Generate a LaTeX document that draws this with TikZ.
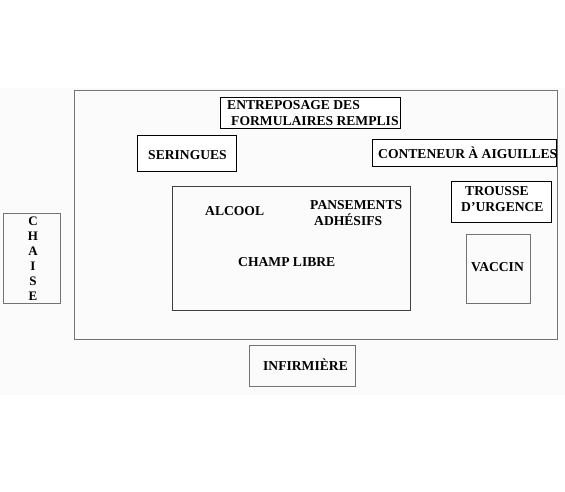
\documentclass[tikz,border=0pt]{standalone}
\usepackage{fontspec}
\setmainfont{Liberation Serif}
\begin{document}
\begin{tikzpicture}[x=1pt,y=-1pt,
  box/.style={draw=black,line width=0.8pt,inner sep=0pt,fill=white},
  gbox/.style={draw=black!55,line width=0.9pt,inner sep=0pt},
  lbl/.style={font=\fontsize{13.6}{15.5}\selectfont\bfseries,inner sep=0pt,anchor=west,align=left}]
\useasboundingbox (0,0) rectangle (565,492);
\fill[black!1.5] (0,88) rectangle (565,395);
% outer zone
\node[gbox,minimum width=483pt,minimum height=249pt] (zone) at (315.5,214.5) {};
% boxes
\node[box,minimum width=180pt,minimum height=31pt] (ent) at (310,112.5) {};
\node[box,minimum width=99pt,minimum height=36pt] (ser) at (186.5,153) {};
\node[box,minimum width=184pt,minimum height=27pt] (con) at (464,152.5) {};
\node[draw=black!75,line width=0.9pt,inner sep=0pt,minimum width=238pt,minimum height=124pt] (champ) at (291,248) {};
\node[box,minimum width=100pt,minimum height=41pt] (tro) at (501,201.5) {};
\node[gbox,minimum width=64pt,minimum height=69pt] (vac) at (498,268.5) {};
\node[gbox,minimum width=57pt,minimum height=90pt] (cha) at (31.5,258) {};
\node[gbox,minimum width=106pt,minimum height=41pt] (inf) at (302,365.5) {};
% labels
\node[lbl] (tent) at (227,113) {ENTREPOSAGE DES\\\hspace*{4pt}FORMULAIRES REMPLIS};
\node[lbl] (tser) at (148,155) {SERINGUES};
\node[lbl] (tcon) at (378,153) {CONTENEUR À AIGUILLES};
\node[lbl] (talc) at (205,211) {ALCOOL};
\node[lbl] (tpan) at (310,213) {PANSEMENTS\\\hspace*{4pt}ADHÉSIFS};
\node[lbl] (tcha) at (238,262) {CHAMP LIBRE};
\node[lbl] (ttro) at (461,199) {\hspace*{4pt}TROUSSE\\D’URGENCE};
\node[lbl] (tvac) at (471,267) {VACCIN};
\node[font=\fontsize{13}{15}\selectfont\bfseries,inner sep=0pt,align=center] (tchai) at (33,259) {C\\H\\A\\I\\S\\E};
\node[lbl] (tinf) at (263,365) {INFIRMIÈRE};
\end{tikzpicture}
\end{document}
